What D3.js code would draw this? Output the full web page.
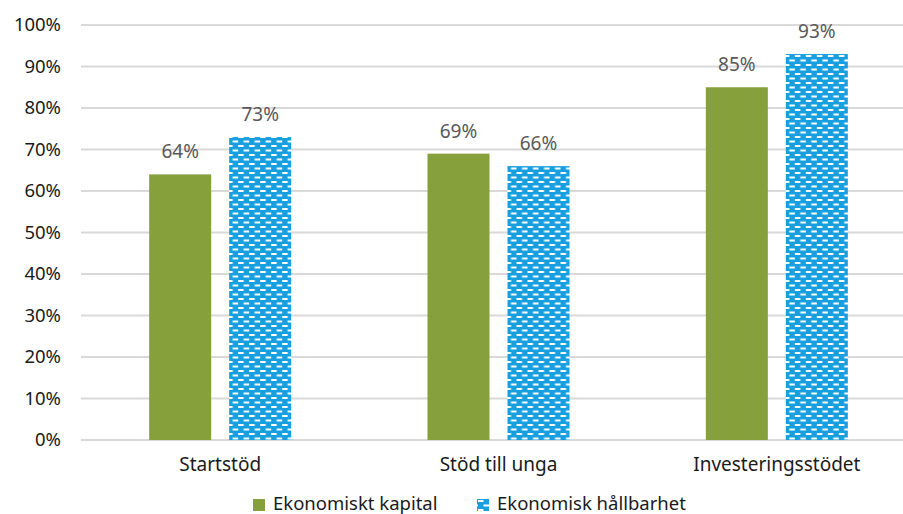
<!DOCTYPE html>
<html>
<head>
<meta charset="utf-8">
<script src="https://cdn.jsdelivr.net/npm/d3@7"></script>
<style>
  body { margin: 0; background: #fff; }
  svg { display: block; font-family: "Noto Sans", "Open Sans", sans-serif; }
</style>
</head>
<body>
<svg id="chart" width="903" height="514"></svg>
<script>
// data
const categories = ["Startstöd", "Stöd till unga", "Investeringsstödet"];
const seriesNames = ["Ekonomiskt kapital", "Ekonomisk hållbarhet"];
const kapital = [64, 69, 85];
const hallbarhet = [73, 66, 93];
const yTicks = [0, 10, 20, 30, 40, 50, 60, 70, 80, 90, 100];

const W = 903, H = 514;
const m = { top: 25, bottom: 74, left: 81 };
const plotRight = 916; // plot area runs past the right edge of the picture

const svg = d3.select("#chart");

// brick-dash pattern for the second series
const defs = svg.append("defs");
const pat = defs.append("pattern")
    .attr("id", "bricks")
    .attr("patternUnits", "userSpaceOnUse")
    .attr("width", 11).attr("height", 9);
pat.append("rect").attr("width", 11).attr("height", 9).attr("fill", "#189fe0");
pat.append("rect").attr("x", 1).attr("y", 1).attr("width", 5.5).attr("height", 2).attr("fill", "#fff");
pat.append("rect").attr("x", 6.5).attr("y", 5.5).attr("width", 5.5).attr("height", 2).attr("fill", "#fff");
pat.append("rect").attr("x", -4.5).attr("y", 5.5).attr("width", 5.5).attr("height", 2).attr("fill", "#fff");

const y = d3.scaleLinear().domain([0, 100]).range([H - m.bottom, m.top]);
const x0 = d3.scaleBand().domain(categories).range([m.left, plotRight]);
const x1 = d3.scaleBand().domain(seriesNames).range([0, 142]).paddingInner(0.225);

// gridlines
svg.append("g")
    .selectAll("line")
    .data(yTicks)
    .join("line")
    .attr("x1", m.left).attr("x2", plotRight)
    .attr("y1", d => y(d)).attr("y2", d => y(d))
    .attr("stroke", "#d9d9d9")
    .attr("stroke-width", 2);

// y labels
svg.append("g")
    .selectAll("text")
    .data(yTicks)
    .join("text")
    .attr("x", 61)
    .attr("y", d => y(d))
    .attr("dy", "0.35em")
    .attr("text-anchor", "end")
    .attr("font-size", 18.5)
    .attr("fill", "#1a1a1a")
    .text(d => d + "%");

// bars
const series = [
    { name: seriesNames[0], values: kapital, fill: "#86a03b" },
    { name: seriesNames[1], values: hallbarhet, fill: "url(#bricks)" }
];

const groups = svg.append("g")
    .selectAll("g")
    .data(categories)
    .join("g")
    .attr("transform", d => `translate(${x0(d) + x0.bandwidth() / 2 - 71},0)`);

groups.selectAll("rect")
    .data((c, i) => series.map(s => ({ s, v: s.values[i] })))
    .join("rect")
    .attr("x", d => x1(d.s.name))
    .attr("width", x1.bandwidth())
    .attr("y", d => y(d.v))
    .attr("height", d => y(0) - y(d.v))
    .attr("fill", d => d.s.fill);

groups.selectAll("text.val")
    .data((c, i) => series.map(s => ({ s, v: s.values[i] })))
    .join("text")
    .attr("class", "val")
    .attr("x", d => x1(d.s.name) + x1.bandwidth() / 2)
    .attr("y", d => y(d.v) - 16)
    .attr("text-anchor", "middle")
    .attr("font-size", 19)
    .attr("fill", "#595959")
    .text(d => d.v + "%");

// category labels
svg.append("g")
    .selectAll("text")
    .data(categories)
    .join("text")
    .attr("x", d => x0(d) + x0.bandwidth() / 2)
    .attr("y", 471)
    .attr("text-anchor", "middle")
    .attr("font-size", 19)
    .attr("fill", "#1a1a1a")
    .text(d => d);

// legend
const legendX = [253, 477];
const legend = svg.append("g")
    .selectAll("g")
    .data(series)
    .join("g")
    .attr("transform", (d, i) => `translate(${legendX[i]},499)`);
legend.append("rect")
    .attr("width", 12).attr("height", 12)
    .attr("fill", d => d.fill);
legend.append("text")
    .attr("x", 20)
    .attr("y", 11)
    .attr("font-size", 18.5)
    .attr("fill", "#1a1a1a")
    .text(d => d.name);
</script>
</body>
</html>
